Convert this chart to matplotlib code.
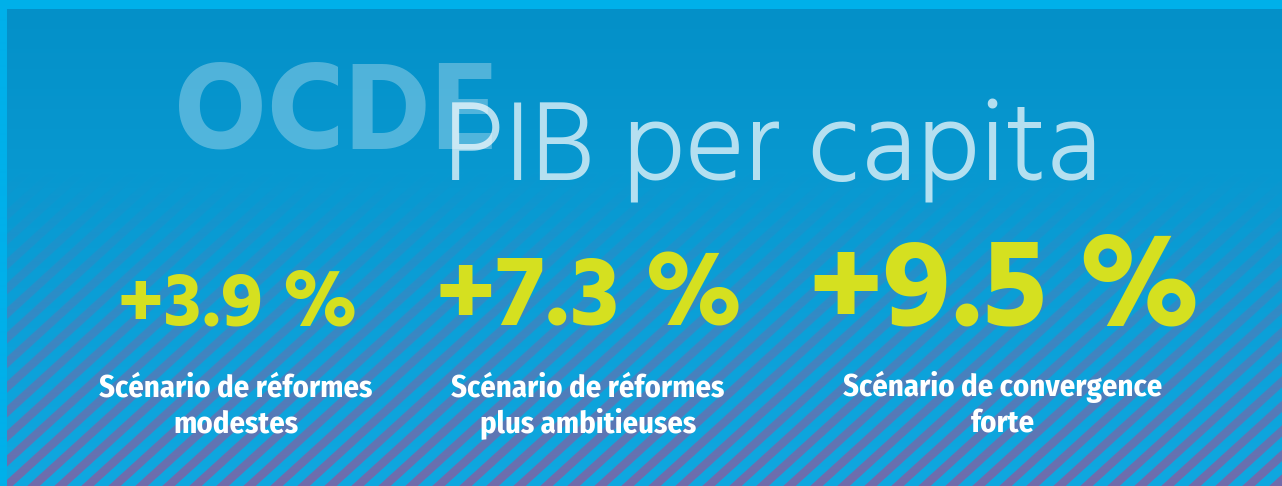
import numpy as np
import matplotlib
matplotlib.use("Agg")
import matplotlib.pyplot as plt
from matplotlib.colors import to_rgb

# ---- data ----
org_label = "OCDE"
title = "PIB per capita"
values = [3.9, 7.3, 9.5]
scenarios = ["Scénario de réformes\nmodestes",
             "Scénario de réformes\nplus ambitieuses",
             "Scénario de convergence\nforte"]

# ---- style ----
W, H = 1282, 486
centers = [238, 590, 1005]
value_sizes = [56, 73, 91]
yellow = "#d5e020"

fig = plt.figure(figsize=(W / 100, H / 100), dpi=100)
ax = fig.add_axes([0, 0, 1, 1])
ax.set_xlim(0, W)
ax.set_ylim(H, 0)
ax.axis("off")

# background: outer cyan frame + gradient panel with purple diagonal stripes
yy, xx = np.mgrid[0:H, 0:W].astype(float)
top = np.array(to_rgb("#0490c8"))
bot = np.array(to_rgb("#0fa8e0"))
t = np.clip((yy - 10) / (H - 10), 0, 1)[..., None]
img = top * (1 - t) + bot * t
stripe_c = np.array(to_rgb("#8a5c9e"))
phase = ((xx + 1.1 * yy) % 27.0) / 27.0
prof = np.clip((np.cos(2 * np.pi * phase) + 0.05) * 3, 0, 1)
ramp = np.clip((yy - 170) / (H - 170), 0, 1) ** 1.2 * 0.8
a = (prof * ramp)[..., None]
img = img * (1 - a) + stripe_c * a
frame = np.array(to_rgb("#00b0ea"))
img[:10, :, :] = frame
img[:, :7, :] = frame
ax.imshow(img, extent=(0, W, H, 0), aspect="auto", zorder=0, interpolation="bilinear")

# headings
ax.text(174, 148, org_label, fontsize=91, fontweight="bold", family="Hind",
        color="white", alpha=0.30, va="baseline", ha="left", zorder=2)
ax.text(443, 180, title, fontsize=82, fontweight=300, family="Hind",
        color="white", alpha=0.70, va="baseline", ha="left", zorder=3)

# values and scenario labels
for v, s, cx, fs in zip(values, scenarios, centers, value_sizes):
    ax.text(cx, 325, f"+{v:.1f} %", fontsize=fs, fontweight="bold",
            family="Hind", color=yellow, ha="center", va="baseline", zorder=4)
    l1, l2 = s.split("\n")
    ax.text(cx - 2, 396, l1, fontsize=22, fontweight=700,
            family="Fira Sans Condensed", color="white", ha="center",
            va="baseline", zorder=4)
    ax.text(cx - 2, 432, l2, fontsize=22, fontweight=700,
            family="Fira Sans Condensed", color="white", ha="center",
            va="baseline", zorder=4)

fig.savefig("out.png", dpi=100)
